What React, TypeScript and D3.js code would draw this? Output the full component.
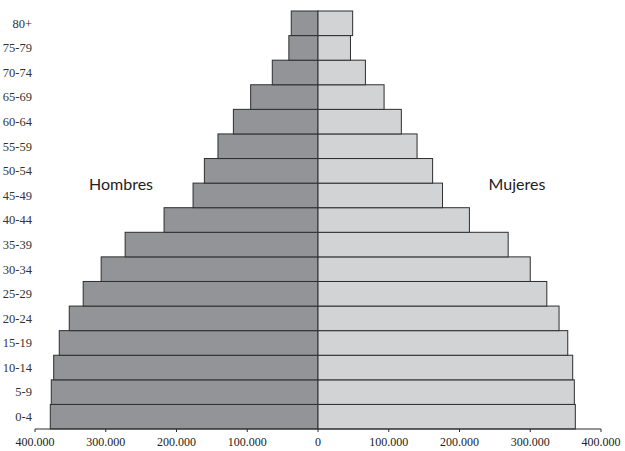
import React from "react";
import * as d3 from "d3";

const ageGroups = ["0-4","5-9","10-14","15-19","20-24","25-29","30-34","35-39","40-44","45-49","50-54","55-59","60-64","65-69","70-74","75-79","80+"];
const hombres = [378400,377000,373600,365700,351600,331900,306500,272600,217600,176600,160600,141400,119600,95200,64600,41200,37800];
const mujeres = [363700,362300,360000,353000,340700,323400,300000,268800,214000,176000,162000,140000,117800,93400,67000,45900,49000];
const tickValues = [-400000,-300000,-200000,-100000,0,100000,200000,300000,400000];
const tickLabels = ["400.000","300.000","200.000","100.000","0","100.000","200.000","300.000","400.000"];

const W = 625, H = 451;

export default function App() {
  const x = d3.scaleLinear().domain([-400000, 400000]).range([35, 601]);
  const y = d3.scaleBand<string>().domain([...ageGroups].reverse()).range([11, 429]).padding(0);
  const bw = y.bandwidth();
  const x0 = x(0);
  const serif = "'Liberation Serif', 'DejaVu Serif', serif";
  const sans = "Lato, 'Open Sans', sans-serif";
  return (
    <svg width={W} height={H} style={{ position: "absolute", left: 0, top: 0, background: "#fff" }}>
      {ageGroups.map((a, i) => (
        <g key={a}>
          <rect x={x(-hombres[i])} y={y(a)!} width={x0 - x(-hombres[i])} height={bw}
            fill="#929497" stroke="#2e2e2e" strokeWidth={1} />
          <rect x={x0} y={y(a)!} width={x(mujeres[i]) - x0} height={bw}
            fill="#d2d3d5" stroke="#2e2e2e" strokeWidth={1} />
          <text x={32} y={y(a)! + bw / 2} dy="0.35em" textAnchor="end"
            fontFamily={serif} fontSize={12.5} fill="#333">{a}</text>
        </g>
      ))}
      <line x1={x(-400000)} x2={x(400000)} y1={429} y2={429} stroke="#2e2e2e" strokeWidth={1.2} />
      {tickValues.map((v, i) => (
        <g key={i}>
          <line x1={x(v)} x2={x(v)} y1={429} y2={432} stroke="#2e2e2e" strokeWidth={1} />
          <text x={x(v)} y={442} dy="0.35em" textAnchor="middle" fontFamily={serif} fontSize={12} fill="#222">{tickLabels[i]}</text>
        </g>
      ))}
      <text x={121} y={190} textAnchor="middle" fontFamily={sans} fontSize={16} fill="#222">Hombres</text>
      <text x={517} y={190} textAnchor="middle" fontFamily={sans} fontSize={16} fill="#222">Mujeres</text>
    </svg>
  );
}
